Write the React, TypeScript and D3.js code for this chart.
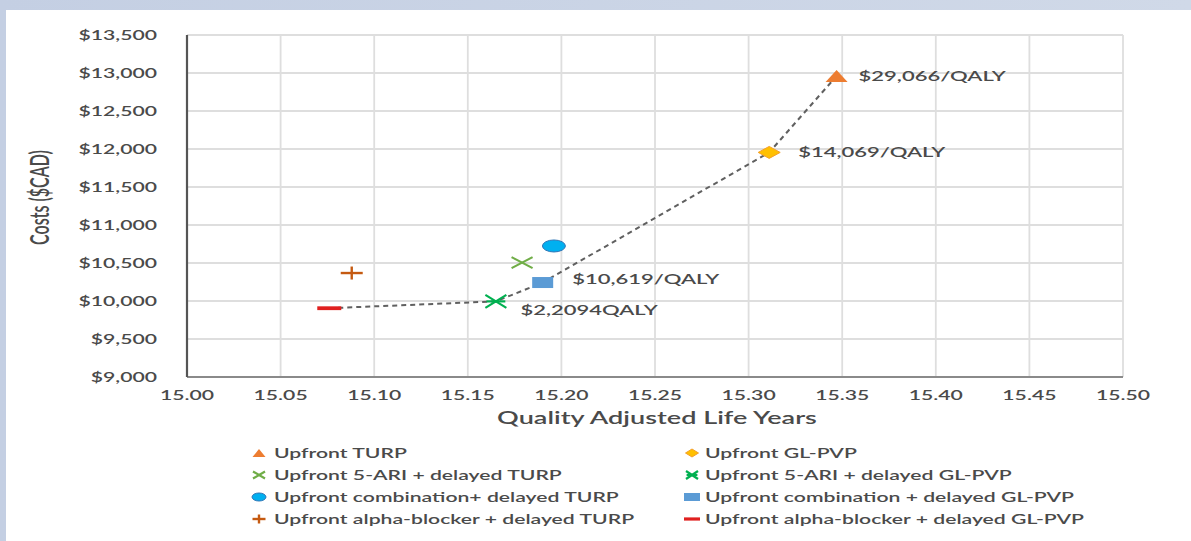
import React from "react";
import * as d3 from "d3";

const W = 1191;
const H = 541;

// ---- data ----
const strategies = [
  "Upfront TURP",
  "Upfront GL-PVP",
  "Upfront 5-ARI + delayed TURP",
  "Upfront 5-ARI + delayed GL-PVP",
  "Upfront combination+ delayed TURP",
  "Upfront combination + delayed GL-PVP",
  "Upfront alpha-blocker + delayed TURP",
  "Upfront alpha-blocker + delayed GL-PVP",
];
const qalys = [15.347, 15.311, 15.179, 15.165, 15.196, 15.19, 15.088, 15.076];
const costs = [12960, 11955, 10505, 9995, 10724, 10243, 10368, 9905];
const markerKinds = ["triangle", "diamond", "x", "asterisk", "ellipse", "square", "plus", "dash"];
const markerColors = ["#ED7D31", "#FFC000", "#70AD47", "#00B050", "#00B0F0", "#5B9BD5", "#C55A11", "#E0201F"];
const frontierOrder = [7, 3, 5, 1, 0];
const icerLabels = ["$29,066/QALY", "$14,069/QALY", "$10,619/QALY", "$2,2094QALY"];
const icerIndex = [0, 1, 5, 3];
const xTicks = [15.0, 15.05, 15.1, 15.15, 15.2, 15.25, 15.3, 15.35, 15.4, 15.45, 15.5];
const yTicks = [9000, 9500, 10000, 10500, 11000, 11500, 12000, 12500, 13000, 13500];
const xTitle = "Quality Adjusted Life Years";
const yTitle = "Costs ($CAD)";

// ---- layout ----
const left = 187, right = 1123, top = 35, bottom = 377;
const x = d3.scaleLinear().domain([15.0, 15.5]).range([left, right]);
const y = d3.scaleLinear().domain([9000, 13500]).range([bottom, top]);
const SX = 1.63;
const FONT = "Lato, 'Open Sans', sans-serif";
const TXT = "#4a4a4a";

function T({ x, y, size, anchor = "start", sx = SX, children, fill = TXT, weight = 600 }: any) {
  return (
    <text
      transform={`translate(${x},${y}) scale(${sx},1)`}
      fontFamily={FONT}
      fontSize={size}
      fontWeight={weight}
      textAnchor={anchor}
      dy="0.36em"
      fill={fill}
    >
      {children}
    </text>
  );
}

function Marker({ kind, cx, cy, w, h, color }: any) {
  switch (kind) {
    case "triangle":
      return <path d={`M${cx},${cy - h}L${cx + w},${cy + h}L${cx - w},${cy + h}Z`} fill={color} />;
    case "diamond":
      return (
        <path
          d={`M${cx},${cy - h}L${cx + w},${cy}L${cx},${cy + h}L${cx - w},${cy}Z`}
          fill={color}
          stroke="#F4A02A"
          strokeWidth={1}
        />
      );
    case "x":
      return (
        <g stroke={color} strokeWidth={2.2}>
          <line x1={cx - w} y1={cy - h} x2={cx + w} y2={cy + h} />
          <line x1={cx - w} y1={cy + h} x2={cx + w} y2={cy - h} />
        </g>
      );
    case "asterisk":
      return (
        <g stroke={color} strokeWidth={2.2}>
          <line x1={cx - w} y1={cy - h} x2={cx + w} y2={cy + h} />
          <line x1={cx - w} y1={cy + h} x2={cx + w} y2={cy - h} />
          <line x1={cx - w * 0.9} y1={cy} x2={cx + w * 0.9} y2={cy} />
        </g>
      );
    case "ellipse":
      return <ellipse cx={cx} cy={cy} rx={w} ry={h} fill={color} stroke="#2E75B6" strokeWidth={1} />;
    case "square":
      return <rect x={cx - w} y={cy - h} width={2 * w} height={2 * h} fill={color} />;
    case "plus":
      return (
        <g stroke={color} strokeWidth={2.4}>
          <line x1={cx - w} y1={cy} x2={cx + w} y2={cy} />
          <line x1={cx} y1={cy - h} x2={cx} y2={cy + h} />
        </g>
      );
    case "dash":
      return <rect x={cx - w} y={cy - h} width={2 * w} height={2 * h} fill={color} />;
    default:
      return null;
  }
}

const plotSize: Record<string, [number, number]> = {
  triangle: [11, 6],
  diamond: [11, 6],
  x: [10.5, 5.5],
  asterisk: [10.5, 6.5],
  ellipse: [11.5, 6],
  square: [10.5, 5.5],
  plus: [11, 6.5],
  dash: [12, 1.9],
};
const legendSize: Record<string, [number, number]> = {
  triangle: [6.5, 4],
  diamond: [6.5, 4],
  x: [6, 3.5],
  asterisk: [6, 4],
  ellipse: [7, 4],
  square: [8, 4],
  plus: [6.5, 4.5],
  dash: [8, 1.6],
};
const labelOffset: [number, number][] = [
  [22, 0],
  [29, 0],
  [29.5, -3.5],
  [24.5, 8.5],
];

export default function App() {
  const line = d3
    .line<number>()
    .x((i) => x(qalys[i]))
    .y((i) => y(costs[i]));

  return (
    <svg width={W} height={H} style={{ position: "absolute", left: 0, top: 0 }}>
      <defs>
        <linearGradient id="bg" x1="0" x2="1" y1="0" y2="0">
          <stop offset="0" stopColor="#c4cfe3" />
          <stop offset="1" stopColor="#d0d9e8" />
        </linearGradient>
      </defs>
      <rect x={0} y={0} width={W} height={H} fill="url(#bg)" />
      <rect x={6} y={10} width={W - 6} height={H - 10} fill="#ffffff" />

      {/* grid */}
      <g stroke="#dedede" strokeWidth={1.8}>
        {xTicks.map((t) => (
          <line key={"gx" + t} x1={x(t)} x2={x(t)} y1={top} y2={bottom} />
        ))}
        {yTicks.map((t) => (
          <line key={"gy" + t} x1={left} x2={right} y1={y(t)} y2={y(t)} />
        ))}
      </g>
      <line x1={left} x2={right} y1={bottom} y2={bottom} stroke="#8a8a8a" strokeWidth={1.8} />
      <line x1={left} x2={left} y1={top} y2={bottom} stroke="#555555" strokeWidth={2.2} />

      {/* tick labels */}
      {yTicks.map((t) => (
        <T key={"ty" + t} x={157} y={y(t)} size={13} anchor="end">
          {d3.format("$,")(t)}
        </T>
      ))}
      {xTicks.map((t) => (
        <T key={"tx" + t} x={x(t)} y={395} size={13} anchor="middle">
          {d3.format(".2f")(t)}
        </T>
      ))}

      {/* titles */}
      <T x={(left + right) / 2 + 2} y={418} size={16.6} anchor="middle">
        {xTitle}
      </T>
      <text
        transform={`translate(40,197.5) scale(${SX},1) rotate(-90)`}
        fontFamily={FONT}
        fontSize={16}
        fontWeight={600}
        textAnchor="middle"
        dy="0.36em"
        fill={TXT}
      >
        {yTitle}
      </text>

      {/* frontier */}
      <path
        d={line(frontierOrder) || ""}
        fill="none"
        stroke="#606060"
        strokeWidth={2}
        strokeDasharray="5,4"
      />

      {/* points */}
      {strategies.map((s, i) => {
        const [w, h] = plotSize[markerKinds[i]];
        return (
          <Marker key={"m" + s} kind={markerKinds[i]} cx={x(qalys[i])} cy={y(costs[i])} w={w} h={h} color={markerColors[i]} />
        );
      })}

      {/* ICER labels */}
      {icerLabels.map((lab, k) => {
        const i = icerIndex[k];
        return (
          <T key={"l" + lab} x={x(qalys[i]) + labelOffset[k][0]} y={y(costs[i]) + labelOffset[k][1]} size={13.5}>
            {lab}
          </T>
        );
      })}

      {/* legend */}
      {strategies.map((s, i) => {
        const col = i % 2;
        const row = Math.floor(i / 2);
        const mx = col === 0 ? 259 : 692;
        const ty = 453 + row * 22;
        const [w, h] = legendSize[markerKinds[i]];
        return (
          <g key={"lg" + s}>
            <Marker kind={markerKinds[i]} cx={mx} cy={ty} w={w} h={h} color={markerColors[i]} />
            <T x={mx + (col === 0 ? 15 : 13)} y={ty} size={13}>
              {s}
            </T>
          </g>
        );
      })}
    </svg>
  );
}
